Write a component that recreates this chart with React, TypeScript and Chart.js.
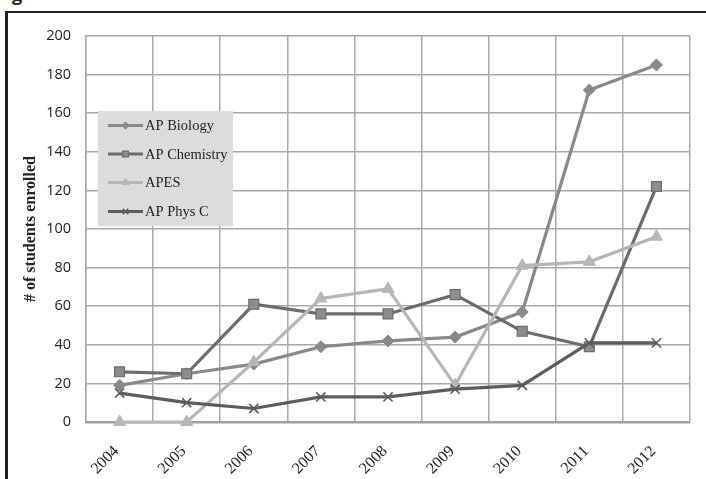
import React, { useEffect, useRef } from "react";
import { Chart, registerables } from "chart.js";
import { drawPoint } from "chart.js/helpers";

Chart.register(...registerables);

const years = ["2004", "2005", "2006", "2007", "2008", "2009", "2010", "2011", "2012"];
const apBiology = [19, 25, 30, 39, 42, 44, 57, 172, 185];
const apChemistry = [26, 25, 61, 56, 56, 66, 47, 39, 122];
const apes = [0, 0, 31, 64, 69, 19, 81, 83, 96];
const apPhysC = [15, 10, 7, 13, 13, 17, 19, 41, 41];
const seriesNames = ["AP Biology", "AP Chemistry", "APES", "AP Phys C"];
const yTitle = "# of students enrolled";

const legendPlugin = {
  id: "insideLegend",
  afterDraw(chart: any) {
    const ctx = chart.ctx;
    const x0 = 98, y0 = 111, w = 135, h = 115;
    ctx.save();
    ctx.fillStyle = "#dcdcdd";
    ctx.fillRect(x0, y0, w, h);
    const rows = [125.5, 154, 182.5, 211.5];
    chart.data.datasets.forEach((ds: any, i: number) => {
      const y = rows[i];
      ctx.strokeStyle = ds.borderColor;
      ctx.lineWidth = 3;
      ctx.beginPath();
      ctx.moveTo(108, y);
      ctx.lineTo(143, y);
      ctx.stroke();
      ctx.fillStyle = ds.pointBackgroundColor;
      ctx.strokeStyle = ds.pointBorderColor;
      ctx.lineWidth = ds.pointBorderWidth;
      drawPoint(ctx, { pointStyle: ds.pointStyle, radius: ds.pointRadius * 0.6, borderWidth: ds.pointBorderWidth, rotation: 0 }, 125.5, y);
      ctx.fillStyle = "#222";
      ctx.font = "14.5px 'Liberation Serif', serif";
      ctx.textBaseline = "middle";
      ctx.textAlign = "left";
      ctx.fillText(seriesNames[i], 145, y + 1);
    });
    ctx.restore();
  },
};

export default function App() {
  const ref = useRef<HTMLCanvasElement>(null);
  useEffect(() => {
    if (!ref.current) return;
    const mk = (label: string, data: number[], line: string, fill: string, border: string, style: string, r: number, bw: number, order: number) => ({
      label,
      data,
      borderColor: line,
      borderWidth: 3.2,
      pointBackgroundColor: fill,
      pointBorderColor: border,
      pointBorderWidth: bw,
      pointStyle: style,
      pointRadius: r,
      tension: 0,
      clip: false,
      order,
    });
    const chart = new Chart(ref.current, {
      type: "line",
      data: {
        labels: years,
        datasets: [
          mk(seriesNames[0], apBiology, "#898989", "#898989", "#898989", "rectRot", 6, 1, 4),
          mk(seriesNames[1], apChemistry, "#6c6c6c", "#8d8d8f", "#6c6c6c", "rect", 7, 1.2, 3),
          mk(seriesNames[2], apes, "#b6b6b6", "#b6b6b6", "#b6b6b6", "triangle", 7, 1, 2),
          mk(seriesNames[3], apPhysC, "#5c5c5c", "#5c5c5c", "#5c5c5c", "crossRot", 6.5, 1.6, 1),
        ] as any,
      },
      options: {
        animation: false,
        responsive: false,
        devicePixelRatio: 1,
        layout: { padding: { top: 36, right: 16, left: 0, bottom: 0 } },
        plugins: { legend: { display: false }, tooltip: { enabled: false } },
        scales: {
          x: {
            offset: true,
            grid: { offset: true, color: "#a9a9a9", lineWidth: 1.5, drawTicks: false },
            border: { color: "#a0a0a0", width: 2.5 },
            ticks: {
              color: "#222",
              font: { family: "'Liberation Serif', serif", size: 16 },
              minRotation: 45,
              maxRotation: 45,
              padding: 20,
              labelOffset: -3,
            },
            afterFit: (s: any) => { s.height = 57; },
          },
          y: {
            min: 0,
            max: 200,
            ticks: {
              stepSize: 20,
              color: "#222",
              font: { family: "'Open Sans', sans-serif", size: 14.5 },
              padding: 15,
            },
            grid: { color: "#a9a9a9", lineWidth: 1.5, drawTicks: false },
            border: { color: "#a9a9a9", width: 1.5 },
            title: {
              display: true,
              text: yTitle,
              color: "#222",
              font: { family: "'Liberation Serif', serif", size: 16, weight: "bold" },
              padding: { top: 21, bottom: 0 },
            },
            afterFit: (s: any) => { s.width = 86; },
          },
        },
      } as any,
      plugins: [legendPlugin],
    });
    return () => chart.destroy();
  }, []);
  return (
    <div style={{ position: "absolute", left: 0, top: 0, width: 706, height: 479, overflow: "hidden", background: "#fff" }}>
      <div style={{ position: "absolute", left: 12, top: -16, fontFamily: "'Open Sans', sans-serif", fontWeight: "bold", fontSize: 18, color: "#222", lineHeight: "20px" }}>g</div>
      <div style={{ position: "absolute", left: 5, top: 11, width: 720, height: 480, borderLeft: "3px solid #222", borderTop: "2px solid #222" }} />
      <canvas ref={ref} width={706} height={479} style={{ position: "absolute", left: 0, top: 0 }} />
    </div>
  );
}
